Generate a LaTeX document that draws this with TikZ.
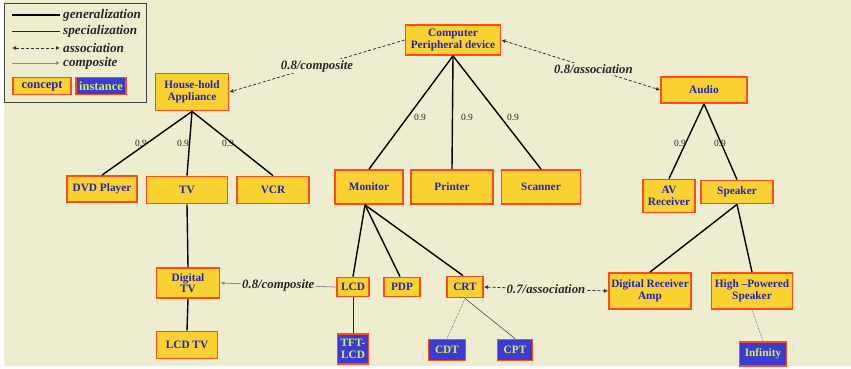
\documentclass[tikz,border=0pt]{standalone}
\usepackage{fontspec}
\setmainfont{Liberation Serif}
\usetikzlibrary{arrows.meta}
\definecolor{bg}{HTML}{EFEDCF}
\definecolor{cyel}{HTML}{F9D231}
\definecolor{cred}{HTML}{FF4A1C}
\definecolor{ctext}{HTML}{2424B4}
\definecolor{iblue}{HTML}{3C3CD2}
\definecolor{itext}{HTML}{D6F046}
\begin{document}
\begin{tikzpicture}[x=1pt,y=-1pt,
 concept/.style={draw=cred, line width=1.8pt, fill=cyel, text=ctext,
   font=\bfseries\fontsize{11.3}{11.5}\selectfont, align=center, inner sep=0pt},
 instance/.style={concept, fill=iblue, text=itext},
 lbox/.style={font=\bfseries\fontsize{12.5}{13}\selectfont},
 gen/.style={line width=1.4pt, black},
 spec/.style={line width=0.9pt, black!85},
 thinl/.style={line width=0.6pt, black!70},
 assoc/.style={densely dashed, line width=0.8pt, black!80,
   {Latex[length=4pt,width=4pt]}-{Latex[length=4pt,width=4pt]}},
 compd/.style={densely dashed, line width=0.8pt, black!80, -{Latex[length=4pt,width=4pt]}},
 compl/.style={line width=0.8pt, black!45, -{Latex[length=4pt,width=4pt]}},
 elab/.style={font=\bfseries\itshape\fontsize{12.8}{13}\selectfont, fill=bg, inner sep=1pt, text=black!85},
 wlab/.style={font=\fontsize{9.5}{10}\selectfont, inner sep=0.5pt, text=black!85},
 ltext/.style={font=\bfseries\itshape\fontsize{13.2}{14}\selectfont, anchor=west, inner sep=0pt, text=black!85}
]
\fill[white] (0,0) rectangle (851,369);
\fill[bg] (4,0) rectangle (851,366);
\useasboundingbox (0,0) rectangle (851,369);

% legend
\draw[black!75, line width=0.9pt] (4,3) rectangle (146,102);
\coordinate (l1a) at (12,15); \coordinate (l1b) at (60,15);
\coordinate (l2a) at (12,31); \coordinate (l2b) at (60,31);
\coordinate (l3a) at (12,48); \coordinate (l3b) at (60,48);
\coordinate (l4a) at (12,63); \coordinate (l4b) at (60,63);
\draw[gen] (l1a) -- (l1b);
\draw[spec] (l2a) -- (l2b);
\draw[assoc] (l3a) -- (l3b);
\draw[compl] (l4a) -- (l4b);
\node[ltext] (t1) at (63,15) {generalization};
\node[ltext] (t2) at (63,31) {specialization};
\node[ltext] (t3) at (63,48) {association};
\node[ltext] (t4) at (63,63) {composite};
\node[concept, lbox, minimum width=58pt, minimum height=17pt] (lc) at (42,86) {concept};
\node[instance, lbox, minimum width=50pt, minimum height=17pt] (li) at (101,86) {instance};

% concept nodes
\node[concept, minimum width=95pt, minimum height=30pt] (cpd) at (453,40) {Computer\\Peripheral device};
\node[concept, minimum width=73pt, minimum height=37pt] (hh) at (192,92) {House-hold\\Appliance};
\node[concept, minimum width=86pt, minimum height=26pt] (aud) at (704,90) {Audio};
\node[concept, minimum width=70pt, minimum height=26pt] (dvd) at (102,189) {DVD Player};
\node[concept, minimum width=81pt, minimum height=27pt] (tv) at (187,190) {TV};
\node[concept, minimum width=72pt, minimum height=27pt] (vcr) at (273,190) {VCR};
\node[concept, minimum width=68pt, minimum height=34pt] (mon) at (369,187) {Monitor};
\node[concept, minimum width=82pt, minimum height=34pt] (prn) at (452,187) {Printer};
\node[concept, minimum width=79pt, minimum height=34pt] (scn) at (541,187) {Scanner};
\node[concept, minimum width=52pt, minimum height=33pt] (avr) at (669,196) {AV\\Receiver};
\node[concept, minimum width=72pt, minimum height=23pt] (spk) at (737,192) {Speaker};
\node[concept, minimum width=63pt, minimum height=30pt] (dtv) at (188,283) {Digital\\TV};
\node[concept, minimum width=61pt, minimum height=27pt] (lcdtv) at (187,345) {LCD TV};
\node[concept, minimum width=32pt, minimum height=19pt] (lcd) at (353,287) {LCD};
\node[concept, minimum width=36pt, minimum height=19pt] (pdp) at (402,287) {PDP};
\node[concept, minimum width=36pt, minimum height=21pt] (crt) at (465,287) {CRT};
\node[concept, minimum width=82pt, minimum height=36pt] (dra) at (650,291) {Digital Receiver\\Amp};
\node[concept, minimum width=81pt, minimum height=36pt] (hps) at (752,291) {High --Powered\\Speaker};
% instance nodes
\node[instance, minimum width=31pt, minimum height=30pt] (tft) at (353,349) {TFT-\\LCD};
\node[instance, minimum width=37pt, minimum height=21pt] (cdt) at (447,350) {CDT};
\node[instance, minimum width=35pt, minimum height=21pt] (cpt) at (515,350) {CPT};
\node[instance, minimum width=47pt, minimum height=24pt] (inf) at (763,354) {Infinity};

% generalization trees
\draw[gen] (cpd.south) -- (mon.north);
\draw[gen] (cpd.south) -- (prn.north);
\draw[gen] (cpd.south) -- (scn.north);
\draw[gen] (hh.south) -- (dvd.north);
\draw[gen] (hh.south) -- (tv.north);
\draw[gen] (hh.south) -- (vcr.north);
\draw[gen] (aud.south) -- (avr.north);
\draw[gen] (aud.south) -- (spk.north);
\draw[gen] (tv.south) -- (dtv.north);
\draw[gen] (dtv.south) -- (lcdtv.north);
\draw[gen] ([xshift=-4pt]mon.south) -- (lcd.north);
\draw[gen] ([xshift=-4pt]mon.south) -- ([xshift=-2pt]pdp.north);
\draw[gen] ([xshift=-4pt]mon.south) -- ([xshift=-2pt]crt.north);
\draw[gen] (spk.south) -- (dra.north);
\draw[gen] (spk.south) -- (hps.north);
\draw[spec] (lcd.south) -- (tft.north);
\draw[thinl, densely dotted] (crt.south) -- (cdt.north);
\draw[thinl] (crt.south) -- (cpt.north);
\draw[thinl, densely dotted] (hps.south) -- (inf.north);

% weights
\node[wlab] (w1) at (420,117) {0.9};
\node[wlab] (w2) at (467,117) {0.9};
\node[wlab] (w3) at (513,117) {0.9};
\node[wlab] (w4) at (141,143) {0.9};
\node[wlab] (w5) at (183,143) {0.9};
\node[wlab] (w6) at (228,143) {0.9};
\node[wlab] (w7) at (680,143) {0.9};
\node[wlab] (w8) at (720,143) {0.9};

% associations / composites
\draw[compd] (cpd.west) -- (hh.east) node[elab, midway] (e1) {0.8/composite};
\draw[assoc] (cpd.east) -- (aud.west) node[elab, pos=0.58] (e2) {0.8/association};
\draw[compl] (lcd.west) -- (dtv.east) node[elab, midway] (e3) {0.8/composite};
\draw[assoc] (crt.east) -- (dra.west) node[elab, pos=0.5] (e4) {0.7/association};
\end{tikzpicture}
\end{document}
